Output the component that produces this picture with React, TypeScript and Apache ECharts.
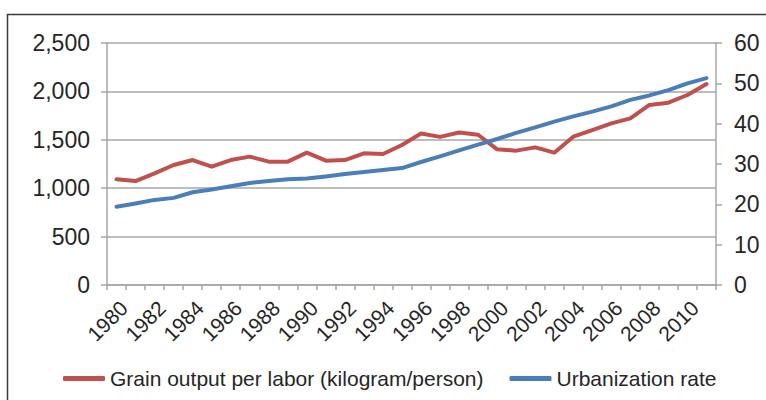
import React, { useEffect, useRef } from "react";
import * as echarts from "echarts";

const years: string[] = [
  "1980", "1981", "1982", "1983", "1984", "1985", "1986", "1987", "1988", "1989",
  "1990", "1991", "1992", "1993", "1994", "1995", "1996", "1997", "1998", "1999",
  "2000", "2001", "2002", "2003", "2004", "2005", "2006", "2007", "2008", "2009",
  "2010", "2011",
];

const grainPerLabor: number[] = [
  1092, 1074, 1154, 1240, 1291, 1222, 1291, 1326, 1274, 1274,
  1367, 1284, 1291, 1360, 1353, 1446, 1565, 1530, 1575, 1552,
  1402, 1388, 1422, 1367, 1532, 1601, 1670, 1722, 1860, 1883,
  1963, 2076,
];

const urbanizationRate: number[] = [
  19.4, 20.2, 21.1, 21.6, 23.0, 23.7, 24.5, 25.3, 25.8, 26.2,
  26.4, 26.9, 27.5, 28.0, 28.5, 29.0, 30.5, 31.9, 33.4, 34.8,
  36.2, 37.7, 39.1, 40.5, 41.8, 43.0, 44.3, 45.9, 47.0, 48.3,
  50.0, 51.3,
];

const seriesNames: string[] = [
  "Grain output per labor (kilogram/person)",
  "Urbanization rate",
];

const FONT = "'Liberation Sans', Arial, Helvetica, sans-serif";
const TEXT = "#262626";
const AXIS = "#a6a6a6";

export default function App() {
  const ref = useRef<HTMLDivElement>(null);

  useEffect(() => {
    if (!ref.current) return;
    const chart = echarts.init(ref.current, undefined, { renderer: "svg" });
    chart.setOption({
      animation: false,
      backgroundColor: "#ffffff",
      textStyle: { fontFamily: FONT },
      graphic: [
        {
          type: "rect",
          shape: { x: 7.5, y: 14.5, width: 800, height: 500 },
          style: { fill: "none", stroke: "#3a3a3a", lineWidth: 1.5 },
          silent: true,
        },
      ],
      grid: { left: 107, right: 50, top: 43, bottom: 115, containLabel: false },
      legend: {
        left: 58,
        top: 363,
        itemWidth: 42,
        itemHeight: 5,
        itemGap: 26,
        icon: "roundRect",
        textStyle: { fontSize: 21, color: TEXT, fontFamily: FONT },
        data: seriesNames,
      },
      xAxis: {
        type: "category",
        data: years,
        boundaryGap: true,
        axisLine: { show: true, lineStyle: { color: AXIS, width: 1.5 } },
        axisTick: { show: true, interval: 0, length: 5, lineStyle: { color: AXIS, width: 1.5 } },
        axisLabel: {
          interval: 1,
          rotate: 45,
          margin: 12,
          verticalAlign: "top",
          fontSize: 21,
          color: TEXT,
          fontFamily: FONT,
        },
        splitLine: { show: false },
      },
      yAxis: [
        {
          type: "value",
          min: 0,
          max: 2500,
          interval: 500,
          position: "left",
          axisLine: { show: true, lineStyle: { color: AXIS, width: 1.5 } },
          axisTick: { show: true, length: 6, lineStyle: { color: AXIS, width: 1.5 } },
          axisLabel: {
            margin: 17,
            fontSize: 23,
            color: TEXT,
            fontFamily: FONT,
            formatter: (v: number) => v.toLocaleString("en-US"),
          },
          splitLine: { show: true, lineStyle: { color: AXIS, width: 1.5 } },
        },
        {
          type: "value",
          min: 0,
          max: 60,
          interval: 10,
          position: "right",
          axisLine: { show: true, lineStyle: { color: AXIS, width: 1.5 } },
          axisTick: { show: true, length: 6, lineStyle: { color: AXIS, width: 1.5 } },
          axisLabel: { margin: 18, fontSize: 23, color: TEXT, fontFamily: FONT },
          splitLine: { show: false },
        },
      ],
      series: [
        {
          name: seriesNames[0],
          type: "line",
          yAxisIndex: 0,
          data: grainPerLabor,
          symbol: "none",
          color: "#c0504d",
          lineStyle: { width: 4, color: "#c0504d", cap: "round", join: "round" },
        },
        {
          name: seriesNames[1],
          type: "line",
          yAxisIndex: 1,
          data: urbanizationRate,
          symbol: "none",
          color: "#4a7ebb",
          lineStyle: { width: 4, color: "#4a7ebb", cap: "round", join: "round" },
        },
      ],
    });
    return () => chart.dispose();
  }, []);

  return (
    <div
      ref={ref}
      style={{ position: "fixed", left: 0, top: 0, width: 766, height: 400 }}
    />
  );
}
